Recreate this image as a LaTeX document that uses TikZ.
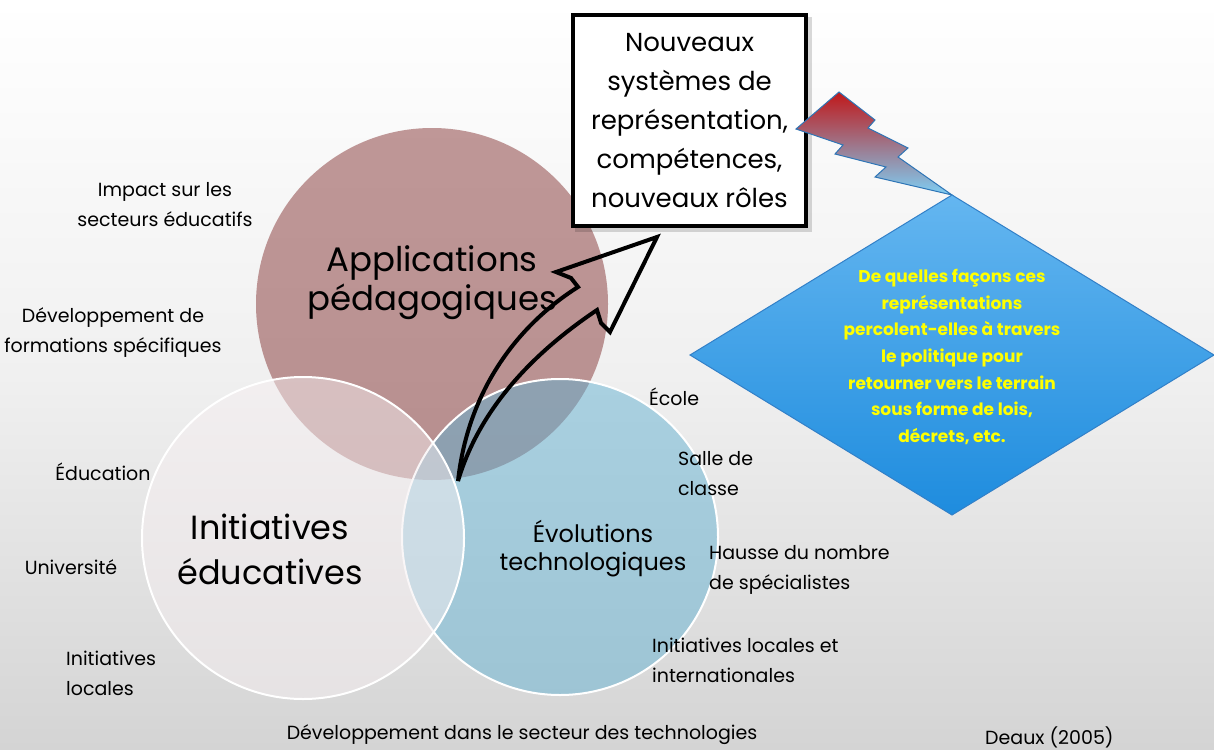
\documentclass[tikz,border=0pt]{standalone}
\usepackage{fontspec}
\setmainfont{Poppins}
\usetikzlibrary{shapes.geometric}
\definecolor{bgbot}{RGB}{212,212,212}
\definecolor{bgmid}{RGB}{240,240,240}
\definecolor{mauvefill}{RGB}{133,53,53}
\definecolor{bluefill}{RGB}{100,178,210}
\definecolor{inifill}{RGB}{245,238,240}
\definecolor{boltred}{RGB}{192,24,26}
\definecolor{boltmid}{RGB}{170,150,190}
\definecolor{boltblue}{RGB}{126,207,245}
\definecolor{boltline}{RGB}{46,117,182}
\definecolor{diatop}{RGB}{100,182,240}
\definecolor{diabot}{RGB}{30,140,222}
\definecolor{dialine}{RGB}{50,128,200}
\definecolor{qyellow}{RGB}{255,255,0}
\begin{document}
\begin{tikzpicture}[x=1pt,y=-1pt,
  lbl/.style={font=\fontsize{19}{30}\selectfont, text=black, inner sep=0pt, align=center},
  lbll/.style={lbl, align=left, anchor=west},
  big/.style={font=\fontsize{34}{39}\selectfont, text=black, inner sep=0pt, align=center},
  venn/.style={circle, inner sep=0pt, fill opacity=0.5, draw opacity=1},
  whiteedge/.style={draw=white, line width=2pt},
  blockarrow/.style={draw=black, line width=4pt, line join=miter, miter limit=4},
  bolt/.style={draw=boltline, line width=1pt, line join=miter},
  question/.style={font=\fontsize{17}{26.7}\selectfont\bfseries, text=qyellow, inner sep=0pt, align=center},
  resultbox/.style={draw=black, line width=4pt, fill=white, inner sep=0pt, align=center,
    font=\fontsize{26}{39}\selectfont, minimum width=233pt, minimum height=211pt}]
\useasboundingbox (0,0) rectangle (1214,749);
% background
\shade[top color=white, bottom color=bgbot, middle color=bgmid] (0,0) rectangle (1214,749);
% Venn circles
\node[venn, fill=mauvefill, minimum size=352pt] (cApp) at (432,304) {};
\node[venn, fill=bluefill, whiteedge, minimum size=316pt] (cEvo) at (560,537) {};
\node[venn, fill=inifill, whiteedge, minimum size=322pt] (cIni) at (303,538) {};
% circle titles
\node[big] (tApp) at (432,283) {Applications\\pédagogiques};
\node[big, font=\fontsize{33.5}{45}\selectfont] (tIni) at (270,549) {Initiatives\\éducatives};
\node[big, font=\fontsize{24}{28}\selectfont] (tEvo) at (593,549) {Évolutions\\technologiques};
% curved block arrow
\draw[blockarrow] (458,481) .. controls (468,390) and (518,325) .. (578,287)
  -- (571,278) -- (556,272) -- (657,237) -- (610,332) -- (601,323) -- (597,310)
  .. controls (545,345) and (482,400) .. (458,481) -- cycle;
% result box with shadow
\fill[black, opacity=0.15] (575,17) rectangle (812,232);
\node[resultbox] (box) at (689.5,120.5) {Nouveaux\\systèmes de\\représentation,\\compétences,\\nouveaux rôles};
% lightning bolt
\path[bolt, top color=boltred, middle color=boltmid, bottom color=boltblue]
  (796,129) -- (839,92) -- (875,120) -- (868,128) -- (908,148) -- (898,157)
  -- (952,195) -- (875,177) -- (886,167) -- (835,154) -- (843,145) -- cycle;
% diamond
\path[draw=dialine, line width=1pt, top color=diatop, bottom color=diabot]
  (952,195) -- (1214,355) -- (952,515) -- (690,355) -- cycle;
\node[question] (q) at (952,357) {De quelles façons ces\\représentations\\percolent-elles à travers\\le politique pour\\retourner vers le terrain\\sous forme de lois,\\décrets, etc.};
% left labels
\node[lbl] (l1) at (165,205) {Impact sur les\\secteurs éducatifs};
\node[lbl] (l2) at (113,333) {Développement de\\formations spécifiques};
\node[lbl] (l3) at (103,472) {Éducation};
\node[lbl] (l4) at (71,567) {Université};
\node[lbll] (l5) at (66,673) {Initiatives\\locales};
% right labels
\node[lbll] (r1) at (649,397) {École};
\node[lbll] (r2) at (678,474) {Salle de\\classe};
\node[lbll] (r3) at (709,570) {Hausse du nombre\\de spécialistes};
\node[lbll] (r4) at (652,660) {Initiatives locales et\\internationales};
% bottom
\node[lbl] (b1) at (522,735) {Développement dans le secteur des technologies};
\node[lbll] (b2) at (985,737) {Deaux (2005)};
\end{tikzpicture}
\end{document}
